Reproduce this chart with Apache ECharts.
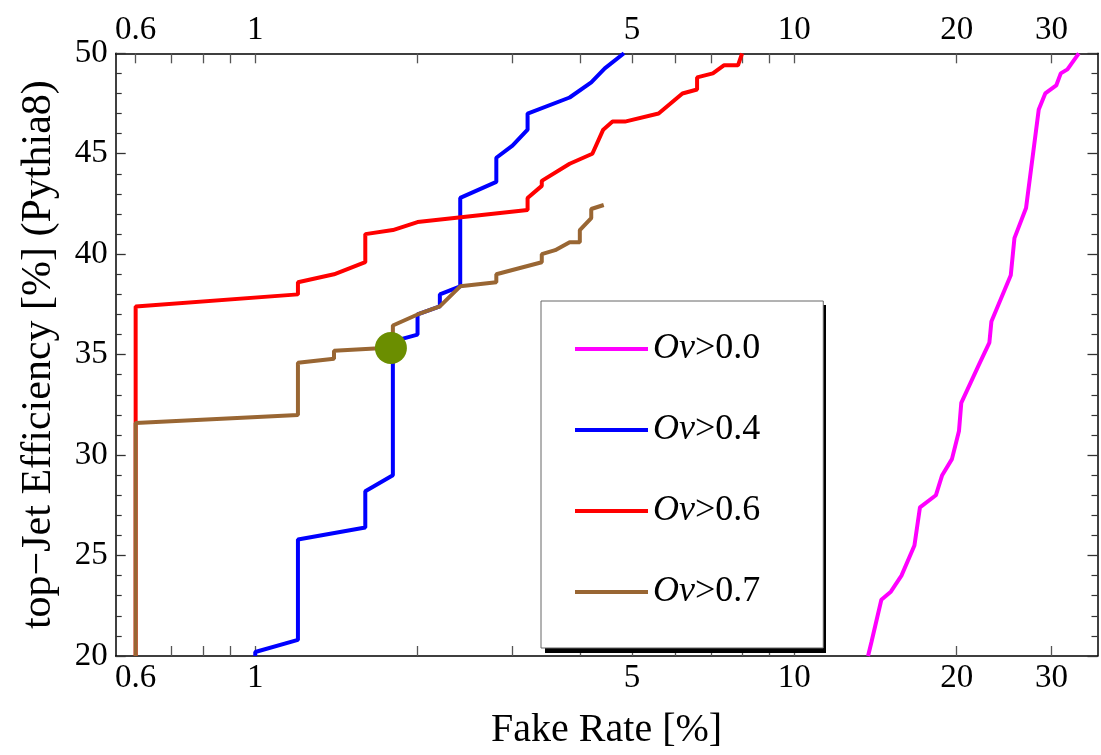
<!DOCTYPE html>
<html>
<head>
<meta charset="utf-8">
<script src="https://cdn.jsdelivr.net/npm/echarts@6/dist/echarts.min.js"></script>
<style>
  html, body { margin: 0; padding: 0; background: #fff; }
  #chart { width: 1101px; height: 755px; }
</style>
</head>
<body>
<div id="chart"></div>
<script>
// Fake rate [%] vs. top-jet efficiency [%] for several overlap cuts
const xTickValues = [0.6, 0.7, 0.8, 0.9, 1, 2, 3, 4, 5, 6, 7, 8, 9, 10, 20, 30];
const xLabelValues = [0.6, 1, 5, 10, 20, 30];

const seriesNames = ['Ov>0.0', 'Ov>0.4', 'Ov>0.6', 'Ov>0.7'];
const seriesColors = ['#ff00ff', '#0000ff', '#ff0000', '#996633'];

const ov00 = [[13.7, 20.0], [13.9, 20.7], [14.5, 22.8], [15.1, 23.2], [15.8, 24.0], [16.7, 25.5],
  [17.1, 27.4], [18.3, 28.0], [18.8, 29.0], [19.6, 29.8], [20.2, 31.2], [20.4, 32.6], [22.0, 34.5],
  [23.0, 35.6], [23.2, 36.65], [25.2, 38.95], [25.6, 40.8], [26.9, 42.3], [28.4, 47.2], [29.2, 48.0],
  [30.6, 48.4], [31.2, 49.0], [32.1, 49.2], [33.7, 50.0]];

const ov04 = [[1.0, 20.0], [1.0, 20.2], [1.2, 20.8], [1.2, 25.8], [1.6, 26.4], [1.6, 28.2], [1.8, 29.0],
  [1.8, 35.66], [2.0, 36.0], [2.0, 37.0], [2.2, 37.4], [2.2, 38.0], [2.4, 38.4], [2.4, 42.8],
  [2.8, 43.6], [2.8, 44.8], [3.0, 45.4], [3.2, 46.2], [3.2, 47.0], [3.83, 47.8], [4.2, 48.55],
  [4.45, 49.25], [4.83, 50.0]];

const ov06 = [[0.6, 20.0], [0.6, 37.4], [1.2, 38.0], [1.2, 38.6], [1.4, 39.0], [1.6, 39.6], [1.6, 41.0],
  [1.8, 41.2], [2.0, 41.6], [3.2, 42.2], [3.2, 42.8], [3.4, 43.4], [3.4, 43.65], [3.83, 44.5],
  [4.22, 45.0], [4.42, 46.2], [4.6, 46.6], [4.85, 46.6], [5.6, 47.0], [6.2, 48.0], [6.6, 48.2],
  [6.6, 48.8], [7.06, 49.0], [7.4, 49.4], [7.86, 49.4], [8.0, 50.0]];

const ov07 = [[0.6, 20.0], [0.6, 31.6], [1.2, 32.0], [1.2, 34.6], [1.4, 34.8], [1.4, 35.2], [1.8, 35.35],
  [1.8, 36.45], [2.0, 37.0], [2.2, 37.4], [2.4, 38.4], [2.8, 38.6], [2.8, 39.0], [3.4, 39.6],
  [3.4, 40.0], [3.6, 40.2], [3.83, 40.6], [4.0, 40.6], [4.0, 41.2], [4.2, 41.8], [4.2, 42.25],
  [4.43, 42.45]];

const workingPoint = [[1.785, 35.33]];

const FONT = 'Liberation Serif';

function xAxisDef(position, showName) {
  return {
    type: 'log',
    position: position,
    min: 0.551,
    max: 36.5,
    name: showName ? 'Fake Rate [%]' : '',
    nameLocation: 'middle',
    nameGap: 54,
    nameTextStyle: { fontFamily: FONT, fontSize: 40, color: '#000' },
    axisLine: { show: true, onZero: false, lineStyle: { color: '#000', width: 1.5 } },
    axisTick: { show: true, inside: true, length: 10, customValues: xTickValues,
      lineStyle: { color: '#555', width: 1.3 } },
    minorTick: { show: false },
    axisLabel: { show: true, customValues: xLabelValues, margin: 6,
      fontFamily: FONT, fontSize: 33, color: '#000' },
    splitLine: { show: false }
  };
}

function yAxisDef(position, showLabels) {
  return {
    type: 'value',
    position: position,
    min: 20,
    max: 50,
    interval: 5,
    name: showLabels ? 'top\u2212Jet Efficiency [%] (Pythia8)' : '',
    nameLocation: 'middle',
    nameGap: 56,
    nameRotate: 90,
    nameTextStyle: { fontFamily: FONT, fontSize: 42, color: '#000' },
    axisLine: { show: true, lineStyle: { color: '#000', width: 1.5 } },
    axisTick: { show: true, inside: true, length: 10, lineStyle: { color: '#333', width: 1.3 } },
    minorTick: { show: true, splitNumber: 5, length: 6, lineStyle: { color: '#333', width: 1.2 } },
    axisLabel: { show: showLabels, margin: 8, fontFamily: FONT, fontSize: 33, color: '#000' },
    splitLine: { show: false }
  };
}

function lineSeries(i, data) {
  return {
    name: seriesNames[i],
    type: 'line',
    xAxisIndex: 0,
    yAxisIndex: 0,
    data: data,
    showSymbol: false,
    symbol: 'none',
    color: seriesColors[i],
    lineStyle: { color: seriesColors[i], width: 4 },
    z: 2 + i,
    animation: false
  };
}

const chart = echarts.init(document.getElementById('chart'), null, { renderer: 'canvas' });

chart.setOption({
  animation: false,
  backgroundColor: '#fff',
  grid: { left: 115.7, right: 3.5, top: 53.3, bottom: 95, containLabel: false },
  xAxis: [xAxisDef('bottom', true), xAxisDef('top', false)],
  yAxis: [yAxisDef('left', true), yAxisDef('right', false)],
  // solid drop shadow behind the legend frame
  graphic: [{
    type: 'rect',
    z: 3,
    silent: true,
    shape: { x: 545, y: 305, width: 281, height: 348 },
    style: { fill: '#000' }
  }],
  legend: {
    data: seriesNames,
    orient: 'vertical',
    left: 541,
    top: 301,
    z: 5,
    padding: [28, 63, 36, 34],
    itemWidth: 73,
    itemHeight: 4,
    itemGap: 41,
    icon: 'rect',
    backgroundColor: '#fff',
    borderColor: '#666',
    borderWidth: 1,
    selectedMode: false,
    formatter: function (name) {
      return '{i|' + name.slice(0, 2) + '}{n|' + name.slice(2) + '}';
    },
    textStyle: {
      fontFamily: FONT, fontSize: 36, color: '#000', lineHeight: 40,
      rich: {
        i: { fontFamily: FONT, fontSize: 36, fontStyle: 'italic', color: '#000', lineHeight: 40 },
        n: { fontFamily: FONT, fontSize: 36, color: '#000', lineHeight: 40 }
      }
    }
  },
  series: [
    lineSeries(0, ov00),
    lineSeries(1, ov04),
    lineSeries(2, ov06),
    lineSeries(3, ov07),
    {
      name: 'working point',
      type: 'scatter',
      data: workingPoint,
      symbol: 'circle',
      symbolSize: 32,
      itemStyle: { color: '#6b8e00', opacity: 1 },
      z: 10,
      animation: false
    }
  ]
});
</script>
</body>
</html>
